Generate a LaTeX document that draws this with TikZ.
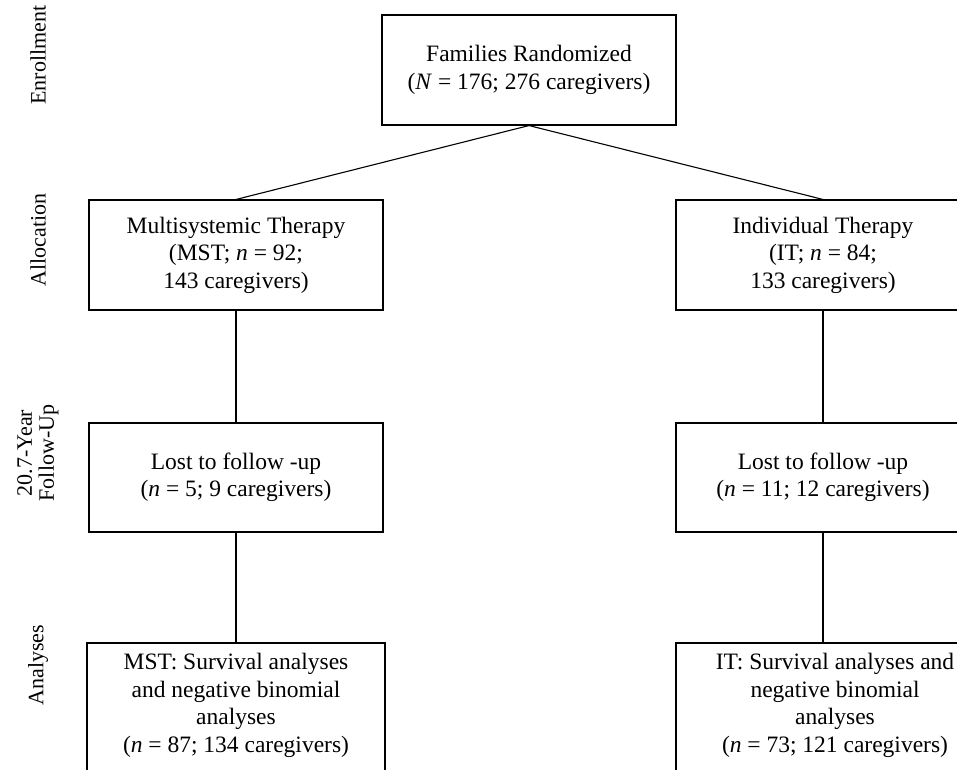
\documentclass[tikz,border=0pt]{standalone}
\usepackage{fontspec}
\setmainfont{Liberation Serif}
\usetikzlibrary{positioning}
\usetikzlibrary{calc}

\tikzset{
  box/.style={draw, line width=1.1pt, align=center, inner sep=0pt,
    minimum width=294, minimum height=110},
  stage/.style={rotate=90, align=center, font=\fontsize{22}{22}\selectfont},
  link/.style={line width=1.1pt},
}

\begin{document}
\begin{tikzpicture}[x=1pt, y=-1pt, font=\fontsize{23.5}{27.5}\selectfont]
  \useasboundingbox (0,0) rectangle (957,769);
  \clip (0,0) rectangle (957,769);

    %----------------------------------------------------------
    % Stage labels on the left
    %----------------------------------------------------------
  \node[stage] (enrol) at (38,55) {Enrollment};
  \node[stage] (alloc) at (38,240) {Allocation};
  \node[stage] (follow) at (38,453) {20.7-Year\\Follow-Up};
  \node[stage] (anal) at (38,665) {Analyses};

    %----------------------------------------------------------
    % Boxes
    %----------------------------------------------------------
  \node[box] (rand) at (529,70) {Families Randomized\\(\textit{N} = 176; 276 caregivers)};

  \node[box] (mst) at (236,255) {Multisystemic Therapy\\(MST; \textit{n} = 92;\\143 caregivers)};
  \node[box] (it) at (823,255) {Individual Therapy\\(IT; \textit{n} = 84;\\133 caregivers)};

  \node[box, minimum height=109] (lostmst) at (236,477.5) {Lost to follow -up\\(\textit{n} = 5; 9 caregivers)};
  \node[box, minimum height=109] (lostit) at (823,477.5) {Lost to follow -up\\(\textit{n} = 11; 12 caregivers)};

  % analyses boxes run past the lower edge
  \node[box, minimum width=298, minimum height=160] (anamst) at (236,723) {};
  \node[anchor=north, align=center, inner sep=0pt] (anamsttxt) at (236,653)
    {MST: Survival analyses\\and negative binomial\\analyses\\(\textit{n} = 87; 134 caregivers)};
  \node[box, minimum width=320, minimum height=160] (anait) at (836,723) {};
  \node[anchor=north, align=center, inner sep=0pt] (anaittxt) at (835,653)
    {IT: Survival analyses and\\negative binomial\\analyses\\(\textit{n} = 73; 121 caregivers)};

    %----------------------------------------------------------
    % Connectors
    %----------------------------------------------------------
  \draw[link] (rand.south) -- (mst.north);
  \draw[link] (rand.south) -- (it.north);
  \draw[link] (mst.south) -- (lostmst.north);
  \draw[link] (it.south) -- (lostit.north);
  \draw[link] (lostmst.south) -- (anamst.north);
  \draw[link] (lostit.south) -- (lostit.south |- anait.north);
\end{tikzpicture}
\end{document}
